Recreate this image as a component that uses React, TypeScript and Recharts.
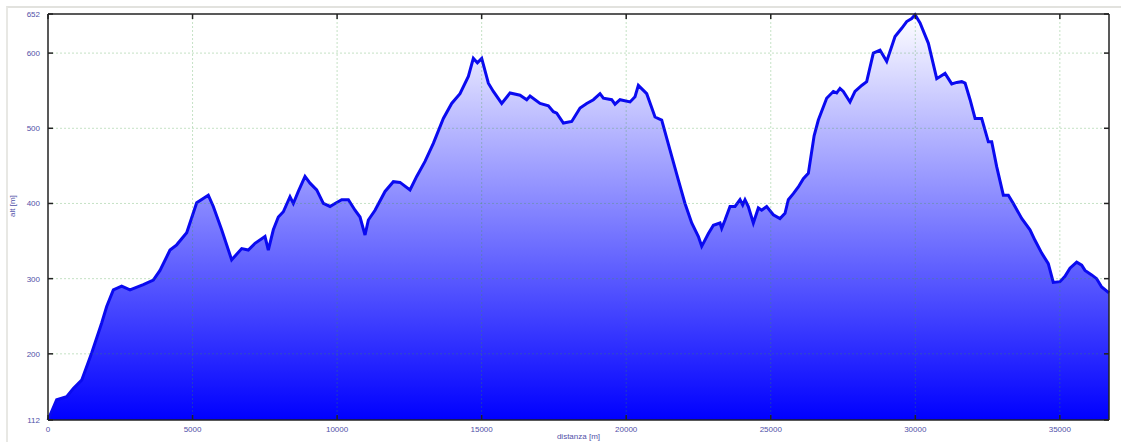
import { ComposedChart, Area, XAxis, YAxis, ReferenceLine } from 'recharts';

// altitude profile
const distances = [
  0, 300, 646, 876, 1165, 1510, 1857, 2030, 2260, 2548, 2836, 3297, 3643, 3874, 4220, 4451, 4797,
  5143, 5545, 5718, 6007, 6353, 6700, 6928, 7160, 7506, 7621, 7794, 7967, 8140, 8371, 8486, 8659,
  8890, 9063, 9294, 9524, 9755, 9928, 10159, 10390, 10620, 10793, 10966, 11081, 11312, 11658, 11946,
  12176, 12522, 12753, 13041, 13329, 13675, 13963, 14251, 14540, 14712, 14851, 15002, 15232, 15405,
  15694, 15982, 16328, 16559, 16674, 17020, 17308, 17481, 17597, 17827, 18116, 18404, 18634, 18865,
  19094, 19210, 19498, 19613, 19786, 20132, 20305, 20420, 20709, 20997, 21228, 21516, 21805, 22034,
  22266, 22497, 22612, 22843, 23016, 23245, 23303, 23418, 23591, 23764, 23937, 24030, 24110, 24224,
  24398, 24571, 24686, 24859, 25088, 25319, 25493, 25608, 25781, 25954, 26127, 26300, 26500, 26646,
  26934, 27164, 27280, 27395, 27510, 27741, 27914, 28145, 28318, 28548, 28779, 29010, 29299, 29530,
  29702, 29875, 29991, 30164, 30452, 30741, 31029, 31260, 31433, 31606, 31722, 31895, 32068, 32297,
  32527, 32643, 32815, 33045, 33218, 33391, 33680, 33967, 34140, 34372, 34600, 34773, 35004, 35177,
  35350, 35582, 35755, 35870, 36100, 36273, 36446, 36700,
];
const altitudes = [
  112, 139, 143, 154, 165, 201, 241, 263, 285, 290, 285, 292, 298, 311, 338, 345, 361,
  401, 411, 396, 365, 325, 340, 338, 347, 356, 338, 365, 382, 389, 409, 400, 416,
  436, 427, 418, 400, 396, 400, 405, 405, 391, 382, 358, 378, 391, 416, 429,
  428, 418, 436, 456, 480, 513, 533, 546, 569, 593, 587, 593, 560, 549,
  533, 547, 544, 538, 543, 533, 530, 522, 520, 507, 509, 527, 533, 538,
  546, 540, 538, 532, 538, 535, 542, 557, 546, 515, 511, 471, 431, 400,
  374, 356, 343, 360, 371, 374, 367, 378, 396, 396, 405, 398, 405, 396,
  374, 394, 391, 396, 385, 380, 387, 405, 413, 422, 433, 440, 490, 511,
  540, 549, 547, 553, 549, 535, 549, 557, 562, 600, 604, 589, 622, 633,
  642, 646, 651, 640, 613, 566, 573, 559, 561, 562, 560, 538, 513, 513,
  482, 482, 449, 411, 411, 400, 380, 365, 351, 334, 320, 295, 296, 303,
  314, 322, 318, 311, 305, 300, 289, 281,
];

const xTicks = [0, 5000, 10000, 15000, 20000, 25000, 30000, 35000];
const yTicks = [112, 200, 300, 400, 500, 600, 652];
const xGrid = [5000, 10000, 15000, 20000, 25000, 30000, 35000];
const yGrid = [200, 300, 400, 500, 600];

const data = distances.map((d, i) => ({ d, alt: altitudes[i] }));

const TEXT = '#5050a8';
const FONT = '"Liberation Sans", Arial, sans-serif';
const FRAME = '#222';
const GRID = '#40a040';

function BottomTick({ x, y, payload }: any) {
  return (
    <g>
      <line x1={x} y1={y} x2={x} y2={y - 5} stroke={FRAME} strokeWidth={1.5} />
      <text x={x} y={y + 12} textAnchor="middle" fontSize={8} fill={TEXT} fontFamily={FONT}>
        {payload.value}
      </text>
    </g>
  );
}

function TopTick({ x, y }: any) {
  return <line x1={x} y1={y} x2={x} y2={y + 5} stroke={FRAME} strokeWidth={1.5} />;
}

function LeftTick({ x, y, payload }: any) {
  return (
    <g>
      <line x1={x} y1={y} x2={x + 5} y2={y} stroke={FRAME} strokeWidth={1.5} />
      <text x={x - 8} y={y + 3} textAnchor="end" fontSize={8} fill={TEXT} fontFamily={FONT}>
        {payload.value}
      </text>
    </g>
  );
}

function RightTick({ x, y }: any) {
  return <line x1={x} y1={y} x2={x - 5} y2={y} stroke={FRAME} strokeWidth={1.5} />;
}

export default function App() {
  return (
    <div style={{ position: 'absolute', left: 0, top: 0, width: 1121, height: 442, background: '#fff' }}>
      <div
        style={{
          position: 'absolute',
          left: 6,
          top: 6,
          right: 0,
          bottom: 0,
          borderTop: '2px solid #e2e2de',
          borderLeft: '2px solid #e8e8e4',
        }}
      />
      <div style={{ position: 'absolute', left: 0, top: 0 }}>
        <ComposedChart width={1121} height={442} data={data} margin={{ top: 13, right: 11, bottom: 2, left: 8 }}>
          <defs>
            <linearGradient id="altFill" x1="0" y1="0" x2="0" y2="1">
              <stop offset="0%" stopColor="#ffffff" />
              <stop offset="100%" stopColor="#0000ff" />
            </linearGradient>
          </defs>
          <XAxis
            dataKey="d"
            type="number"
            domain={[0, 36700]}
            ticks={xTicks}
            interval={0}
            height={20}
            tickSize={0}
            tickMargin={0}
            tickLine={false}
            tick={<BottomTick />}
            axisLine={{ stroke: FRAME, strokeWidth: 1.5 }}
            label={{ value: 'distanza [m]', position: 'insideBottom', offset: 1, fontSize: 8, fill: TEXT, fontFamily: FONT }}
          />
          <XAxis
            xAxisId="top"
            orientation="top"
            dataKey="d"
            type="number"
            domain={[0, 36700]}
            ticks={xTicks}
            interval={0}
            height={1}
            tickSize={0}
            tickMargin={0}
            tickLine={false}
            tick={<TopTick />}
            axisLine={{ stroke: FRAME, strokeWidth: 1.5 }}
          />
          <YAxis
            type="number"
            domain={[112, 652]}
            ticks={yTicks}
            interval={0}
            width={40}
            tickSize={0}
            tickMargin={0}
            tickLine={false}
            tick={<LeftTick />}
            axisLine={{ stroke: FRAME, strokeWidth: 1.5 }}
            label={{ value: 'alt [m]', angle: -90, position: 'insideLeft', offset: 4, fontSize: 8, fill: TEXT, fontFamily: FONT }}
          />
          <YAxis
            yAxisId="right"
            orientation="right"
            type="number"
            domain={[112, 652]}
            ticks={yTicks}
            interval={0}
            width={1}
            tickSize={0}
            tickMargin={0}
            tickLine={false}
            tick={<RightTick />}
            axisLine={{ stroke: FRAME, strokeWidth: 1.5 }}
          />
          <Area
            type="linear"
            dataKey="alt"
            stroke="#0a0af0"
            strokeWidth={3}
            fill="url(#altFill)"
            fillOpacity={1}
            baseValue={112}
            dot={false}
            activeDot={false}
            isAnimationActive={false}
          />
          {/* invisible twin so the mirrored top/right axes get drawn */}
          <Area
            xAxisId="top"
            yAxisId="right"
            type="linear"
            dataKey="alt"
            stroke="none"
            fill="none"
            dot={false}
            activeDot={false}
            legendType="none"
            isAnimationActive={false}
          />
          {xGrid.map((v) => (
            <ReferenceLine key={'x' + v} x={v} stroke={GRID} strokeOpacity={0.3} strokeDasharray="2 2" />
          ))}
          {yGrid.map((v) => (
            <ReferenceLine key={'y' + v} y={v} stroke={GRID} strokeOpacity={0.3} strokeDasharray="2 2" />
          ))}
        </ComposedChart>
      </div>
    </div>
  );
}
